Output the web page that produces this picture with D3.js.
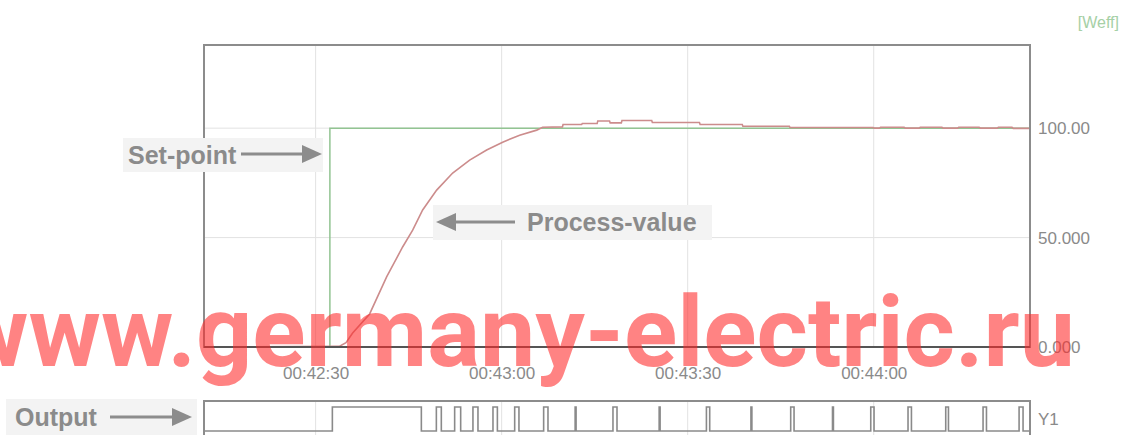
<!DOCTYPE html>
<html>
<head>
<meta charset="utf-8">
<script src="https://cdnjs.cloudflare.com/ajax/libs/d3/7.8.5/d3.min.js"></script>
<style>
  html, body { margin: 0; padding: 0; background: #fff; }
  svg { display: block; font-family: "Liberation Sans", Arial, sans-serif; }
</style>
</head>
<body>
<svg id="chart" width="1131" height="435"></svg>
<script>
// seconds after 00:42:00
var spTime  = [12, 32.3, 32.3, 145.2];
var spValue = [0, 0, 100, 100];

var pvTime  = [12, 33.8, 34.9, 35.97, 38.71, 41.45, 44.03, 45.65, 47.26, 49.52, 52.1, 54.84, 57.58, 60.16, 62.9, 65.65, 66.6,
               69.8, 69.9, 72.9, 73.0, 75.4, 75.5, 77.4, 77.5, 79.3, 79.4, 84.2, 84.3, 91.9, 92.0, 98.8, 98.9, 106.4, 106.5,
               119.9, 120.1, 120.9, 121.1, 124.9, 125.1, 127.3, 127.5, 131.0, 131.2, 133.5, 133.7, 137.0, 137.2, 139.9, 140.1,
               142.3, 142.5, 145.2];
var pvValue = [0, 0.3, 2, 6.4, 15.1, 32, 45.7, 53.4, 62.6, 71.7, 79.5, 85.4, 90, 93.6, 96.8, 99.1, 100.4,
               100.6, 101.7, 101.7, 102.1, 102.1, 103.3, 103.3, 102.4, 102.4, 103.5, 103.5, 102.6, 102.6, 101.7, 101.7, 100.9, 100.9, 100.3,
               100.3, 100.0, 100.0, 100.4, 100.4, 100.0, 100.0, 100.4, 100.4, 100.0, 100.0, 100.4, 100.4, 100.0, 100.0, 100.4,
               100.4, 99.9, 99.9];

// output relay: switching instants and state after each
var outTime  = [12, 32.7, 47.05, 49.47, 50.27, 52.42, 53.39, 55.37, 56.18, 58.6, 59.31, 62.1, 62.79, 66.77, 67.47,
                71.85, 72.0, 77.95, 78.6, 85.4, 85.55, 93.02, 93.55, 100.2, 100.35, 106.61, 107.15, 113.35, 113.5,
                119.52, 120.05, 125.53, 126.08, 131.61, 132.05, 137.63, 138.18, 143.44, 144.08, 145.2];
var outState = [0, 1, 0, 1, 0, 1, 0, 1, 0, 1, 0, 1, 0, 1, 0,
                1, 0, 1, 0, 1, 0, 1, 0, 1, 0, 1, 0, 1, 0,
                1, 0, 1, 0, 1, 0, 1, 0, 1, 0, 0];

var yTicks      = [0, 50, 100];
var yTickLabels = ["0.000", "50.000", "100.00"];
var unitLabel   = "[Weff]";
var outLabel    = "Y1";

var base = Date.UTC(1970, 0, 1, 0, 42, 0);
function toDate(s) { return new Date(base + s * 1000); }

var svg = d3.select("#chart");

var x = d3.scaleUtc().domain([toDate(12), toDate(145.2)]).range([204, 1030]);
var y = d3.scaleLinear().domain([0, 138]).range([347, 45]);
var yOut = d3.scaleLinear().domain([0, 1]).range([431, 407]);

var timeTicks = x.ticks(d3.utcSecond.every(30));

// grid
var grid = svg.append("g").attr("stroke", "#e2e2e2").attr("stroke-width", 1);
grid.selectAll("line.v").data(timeTicks).enter().append("line")
    .attr("x1", function(d){ return x(d); }).attr("x2", function(d){ return x(d); })
    .attr("y1", 45).attr("y2", 347);
grid.selectAll("line.vo").data(timeTicks).enter().append("line")
    .attr("x1", function(d){ return x(d); }).attr("x2", function(d){ return x(d); })
    .attr("y1", 401).attr("y2", 436);
grid.selectAll("line.h").data([50, 100]).enter().append("line")
    .attr("x1", 204).attr("x2", 1030)
    .attr("y1", function(d){ return y(d); }).attr("y2", function(d){ return y(d); });

// set-point & process value
var sp = spTime.map(function(t, i){ return [toDate(t), spValue[i]]; });
var pv = pvTime.map(function(t, i){ return [toDate(t), pvValue[i]]; });
var line = d3.line().x(function(d){ return x(d[0]); }).y(function(d){ return y(d[1]); });

svg.append("path").datum(sp).attr("d", line)
    .attr("fill", "none").attr("stroke", "#92c492").attr("stroke-width", 1.5);
svg.append("path").datum(pv).attr("d", line)
    .attr("fill", "none").attr("stroke", "#cc8c8c").attr("stroke-width", 1.6);

// frame
svg.append("rect").attr("x", 204).attr("y", 45).attr("width", 826).attr("height", 302)
    .attr("fill", "none").attr("stroke", "#8c8c8c").attr("stroke-width", 2);
svg.append("line").attr("x1", 204).attr("x2", 1030).attr("y1", y(0)).attr("y2", y(0))
    .attr("stroke", "#555").attr("stroke-width", 2);

// y axis on right
var yAxis = d3.axisRight(y).tickValues(yTicks).tickSize(0).tickPadding(8)
    .tickFormat(function(d, i){ return yTickLabels[i]; });
var ya = svg.append("g").attr("transform", "translate(1030,0)").call(yAxis);
ya.select(".domain").remove();
ya.selectAll("text").attr("font-size", 17).attr("fill", "#8a8a8a").attr("font-family", "Liberation Sans, Arial, sans-serif");

// time axis labels
var xAxis = d3.axisBottom(x).tickValues(timeTicks).tickSize(0).tickPadding(20)
    .tickFormat(d3.utcFormat("%H:%M:%S"));
var xa = svg.append("g").attr("transform", "translate(0,347)").call(xAxis);
xa.select(".domain").remove();
xa.selectAll("text").attr("font-size", 17).attr("fill", "#8a8a8a").attr("font-family", "Liberation Sans, Arial, sans-serif");

svg.append("text").attr("x", 1119).attr("y", 28).attr("text-anchor", "end")
    .attr("font-size", 16).attr("fill", "#a6d0a6").text(unitLabel);

// output panel
svg.append("rect").attr("x", 204).attr("y", 401).attr("width", 826).attr("height", 40)
    .attr("fill", "none").attr("stroke", "#8c8c8c").attr("stroke-width", 2);
var outData = outTime.map(function(t, i){ return [toDate(t), outState[i]]; });
var outLine = d3.line().curve(d3.curveStepAfter)
    .x(function(d){ return x(d[0]); }).y(function(d){ return yOut(d[1]); });
svg.append("path").datum(outData).attr("d", outLine)
    .attr("fill", "none").attr("stroke", "#8a8a8a").attr("stroke-width", 1.6);
svg.append("text").attr("x", 1038).attr("y", 425).attr("font-size", 17)
    .attr("fill", "#8a8a8a").text(outLabel);

// watermark
svg.append("text").attr("x", -44).attr("y", 366)
    .attr("font-family", "Roboto, 'Liberation Sans', sans-serif").attr("font-weight", "bold")
    .attr("font-size", 98).attr("fill", "#ff2a2a").attr("fill-opacity", 0.58)
    .attr("textLength", 1119).attr("lengthAdjust", "spacingAndGlyphs")
    .text("www.germany-electric.ru");

// annotations
function arrow(g, x1, x2, yy) {
    var dir = x2 > x1 ? 1 : -1;
    g.append("line").attr("x1", x1).attr("x2", x2 - dir * 16).attr("y1", yy).attr("y2", yy)
        .attr("stroke", "#8c8c8c").attr("stroke-width", 3);
    g.append("path")
        .attr("d", "M" + x2 + "," + yy + "L" + (x2 - dir * 20) + "," + (yy - 9) + "L" + (x2 - dir * 20) + "," + (yy + 9) + "Z")
        .attr("fill", "#8c8c8c");
}
function note(bx, by, bw, bh, label, tx, ty) {
    var g = svg.append("g");
    g.append("rect").attr("x", bx).attr("y", by).attr("width", bw).attr("height", bh).attr("fill", "#f3f3f3");
    g.append("text").attr("x", tx).attr("y", ty).attr("font-size", 25).attr("font-weight", "bold")
        .attr("fill", "#8b8b8b").text(label);
    return g;
}
arrow(note(123, 138, 200, 34, "Set-point", 128, 164), 241, 322, 154);
arrow(note(433, 205, 279, 35, "Process-value", 527, 231), 515, 436, 222);
arrow(note(6, 399, 191, 40, "Output", 15, 426), 110, 192, 417);
</script>
</body>
</html>
